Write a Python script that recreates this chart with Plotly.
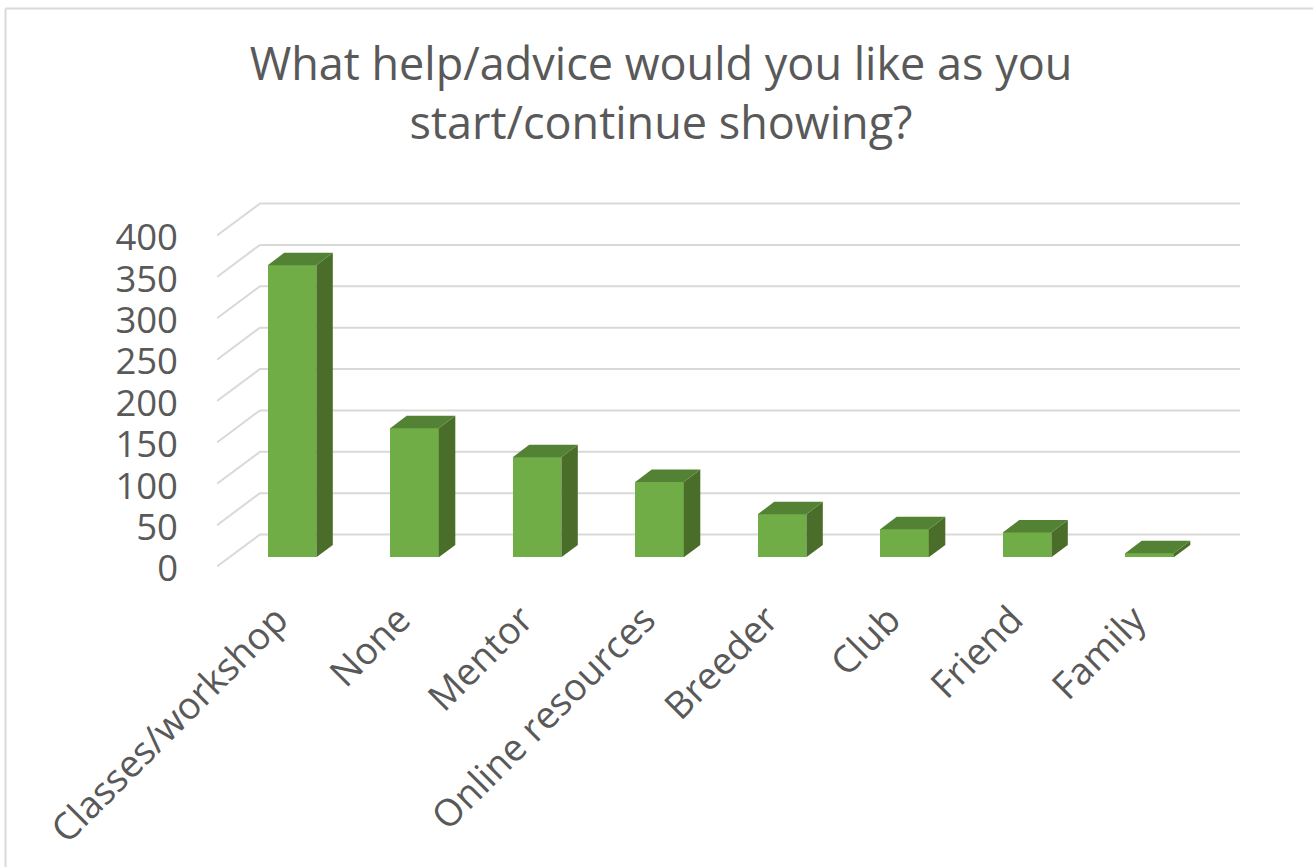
import plotly.graph_objects as go

categories = ["Classes/workshop", "None", "Mentor", "Online resources", "Breeder", "Club", "Friend", "Family"]
values = [353, 156, 121, 91, 52, 34, 30, 5]
y_ticks = [0, 50, 100, 150, 200, 250, 300, 350, 400]
title_text = "What help/advice would you like as you<br>start/continue showing?"

FRONT = "#70AD47"; SIDE = "#4A6E2A"; TOP = "#548235"
GRID = "#D9D9D9"; TEXT = "#595959"; FONT = "Open Sans"

W, H = 1313, 867
PX_X = 122.5       # pixels per category
PX_Y = 0.8275      # pixels per value unit
L, R = 217, 1240   # plot area in pixels
T, B = 198, 589
Y0_PX = 566.5      # pixel of value 0 on the front plane
X0_PX = 292        # pixel of first bar centre

x_range = [(L - X0_PX) / PX_X, (R - X0_PX) / PX_X]
y_range = [(Y0_PX - B) / PX_Y, (Y0_PX - T) / PX_Y]

wall_dx, wall_dy = 43 / PX_X, 32 / PX_Y
bar_w = 48.6 / PX_X
bar_dx, bar_dy = 16.5 / PX_X, 12.4 / PX_Y
bar_base = 9.2 / PX_Y

xs = list(range(len(categories)))
fig = go.Figure()
fig.add_trace(go.Bar(x=xs, y=values, base=bar_base, width=bar_w,
                     marker=dict(color=FRONT, line=dict(width=0)), name="Responses"))

for i, v in zip(xs, values):
    xl, xr = i - bar_w / 2, i + bar_w / 2
    top = v + bar_base
    fig.add_trace(go.Scatter(
        x=[xr, xr + bar_dx, xr + bar_dx, xr, xr],
        y=[bar_base, bar_base + bar_dy, top + bar_dy, top, bar_base],
        mode="lines", fill="toself", fillcolor=SIDE, line=dict(width=0), hoverinfo="skip"))
    fig.add_trace(go.Scatter(
        x=[xl, xr, xr + bar_dx, xl + bar_dx, xl],
        y=[top, top, top + bar_dy, top + bar_dy, top],
        mode="lines", fill="toself", fillcolor=TOP, line=dict(width=0), hoverinfo="skip"))

shapes = []
for t in y_ticks:
    path = (f"M {x_range[0]} {t} L {x_range[0] + wall_dx} {t + wall_dy} "
            f"L {x_range[1]} {t + wall_dy}")
    shapes.append(dict(type="path", path=path, xref="x", yref="y", layer="below",
                       line=dict(color=GRID, width=2)))
# outer chart frame
shapes.append(dict(type="line", xref="paper", yref="paper",
                   x0=(5.5 - L) / (R - L), x1=(W + 5 - L) / (R - L),
                   y0=(B - 8.5) / (B - T), y1=(B - 8.5) / (B - T),
                   line=dict(color=GRID, width=2)))
shapes.append(dict(type="line", xref="paper", yref="paper",
                   x0=(5.5 - L) / (R - L), x1=(5.5 - L) / (R - L),
                   y0=(B - 8.5) / (B - T), y1=(B - H - 5) / (B - T),
                   line=dict(color=GRID, width=2)))

fig.update_layout(
    width=W, height=H, showlegend=False, bargap=0,
    paper_bgcolor="white", plot_bgcolor="rgba(0,0,0,0)",
    margin=dict(l=L, r=W - R, t=T, b=H - B, autoexpand=False),
    font=dict(family=FONT, color=TEXT),
    title=dict(text=title_text, x=661 / W, xanchor="center", y=1 - 80 / H, yanchor="top",
               font=dict(size=45, family=FONT, color=TEXT)),
    shapes=shapes,
    xaxis=dict(range=x_range, tickmode="array", tickvals=xs, ticktext=categories,
               tickangle=-45, tickfont=dict(size=37.5, color=TEXT), showgrid=False,
               zeroline=False, showline=False, ticks="", ticklabelshift=-15),
    yaxis=dict(range=y_range, tickmode="array", tickvals=y_ticks,
               tickfont=dict(size=36.5, color=TEXT), showgrid=False, zeroline=False,
               showline=False, ticks="", ticklabelstandoff=38, ticklabelshift=2),
)
fig.write_html("out.html", config={"displayModeBar": False},
               post_script="document.body.style.margin='0';document.body.style.overflow='hidden';")
